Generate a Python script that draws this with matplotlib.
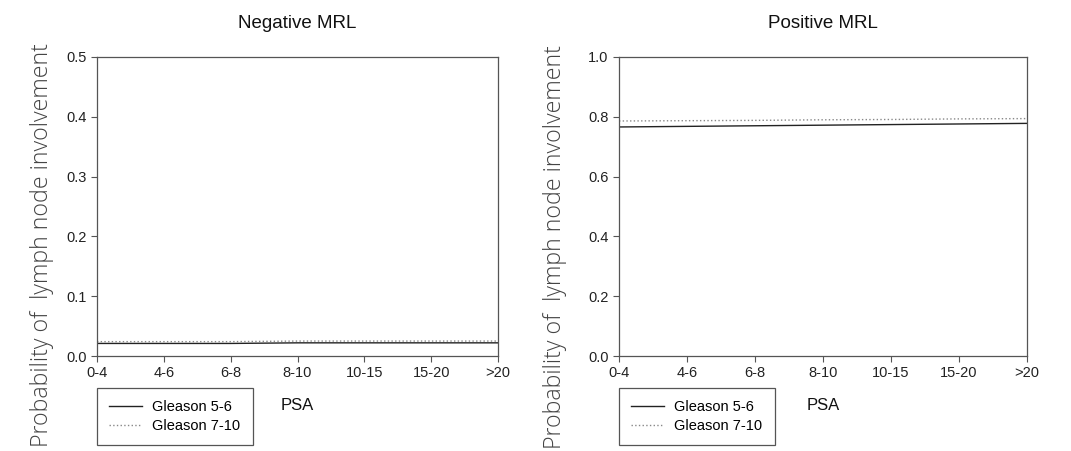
import matplotlib.pyplot as plt

psa = ['0-4', '4-6', '6-8', '8-10', '10-15', '15-20', '>20']
neg_g56 = [0.021, 0.021, 0.021, 0.022, 0.022, 0.022, 0.022]
neg_g710 = [0.024, 0.024, 0.024, 0.025, 0.025, 0.025, 0.025]
pos_g56 = [0.766, 0.768, 0.770, 0.772, 0.774, 0.776, 0.778]
pos_g710 = [0.786, 0.787, 0.788, 0.790, 0.791, 0.793, 0.794]

plt.rcParams['font.family'] = ['Liberation Sans', 'DejaVu Sans']

fig = plt.figure(figsize=(10.71, 4.51), dpi=100)
ax1 = fig.add_axes([97 / 1071, 1 - 356 / 451, 401 / 1071, 299 / 451])
ax2 = fig.add_axes([619 / 1071, 1 - 356 / 451, 408 / 1071, 299 / 451])

panels = [
    (ax1, 'Negative MRL', neg_g56, neg_g710, 0.5, [0.0, 0.1, 0.2, 0.3, 0.4, 0.5]),
    (ax2, 'Positive MRL', pos_g56, pos_g710, 1.0, [0.0, 0.2, 0.4, 0.6, 0.8, 1.0]),
]

x = list(range(len(psa)))
for ax, title, g56, g710, ymax, yt in panels:
    ax.plot(x, g56, color='#222222', linestyle='-', linewidth=1.0, label='Gleason 5-6')
    ax.plot(x, g710, color='#888888', linestyle=':', linewidth=1.0, label='Gleason 7-10')
    ax.set_xlim(0, len(psa) - 1)
    ax.set_ylim(0, ymax)
    ax.set_xticks(x)
    ax.set_xticklabels(psa)
    ax.set_yticks(yt)
    ax.set_yticklabels(['%.1f' % v for v in yt])
    ax.tick_params(direction='out', length=4, width=0.8, color='#555555',
                   labelsize=10.5, labelcolor='#222222')
    for s in ax.spines.values():
        s.set_color('#555555')
        s.set_linewidth(0.9)
    ax.set_title(title, fontsize=13.5, pad=21, color='#111111')
    ax.set_xlabel('PSA', fontsize=12, labelpad=13, color='#111111')
    leg = ax.legend(loc='upper left', bbox_to_anchor=(0.0, -0.107), fontsize=10.5,
                    fancybox=False, framealpha=1, edgecolor='#555555',
                    handlelength=2.25, handletextpad=0.7, borderpad=0.85,
                    labelspacing=0.3, borderaxespad=0)
    leg.get_frame().set_linewidth(0.9)

ylab = 'Probability of  lymph node involvement'
fig.text(0.039, 1 - 245 / 451, ylab, rotation=90, ha='center', va='center',
         fontsize=16.7, color='#444444', family=['Open Sans', 'DejaVu Sans'],
         fontweight='light')
fig.text(0.518, 1 - 247 / 451, ylab, rotation=90, ha='center', va='center',
         fontsize=16.7, color='#444444', family=['Open Sans', 'DejaVu Sans'],
         fontweight='light')

fig.savefig('out.png', dpi=100)
